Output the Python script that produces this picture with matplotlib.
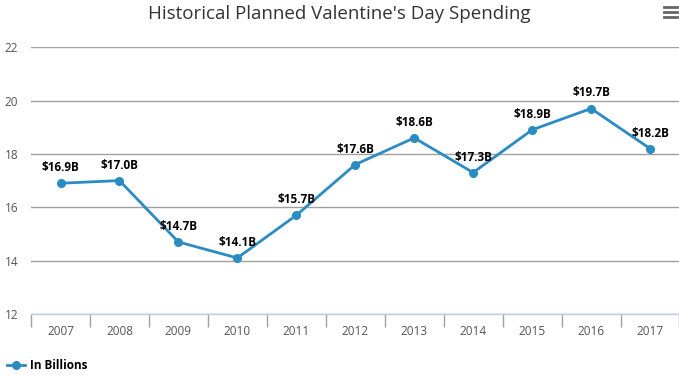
import matplotlib.pyplot as plt
from matplotlib.lines import Line2D

plt.rcParams['font.family'] = ['Open Sans', 'DejaVu Sans']

years = ['2007', '2008', '2009', '2010', '2011', '2012', '2013', '2014', '2015', '2016', '2017']
spending = [16.9, 17.0, 14.7, 14.1, 15.7, 17.6, 18.6, 17.3, 18.9, 19.7, 18.2]
labels = ['$16.9B', '$17.0B', '$14.7B', '$14.1B', '$15.7B', '$17.6B',
          '$18.6B', '$17.3B', '$18.9B', '$19.7B', '$18.2B']
yticks = [12, 14, 16, 18, 20, 22]

line_color = '#2b8cc4'

fig = plt.figure(figsize=(6.79, 3.77), dpi=100)
ax = fig.add_axes([0.0457, 0.167, 0.955, 0.708])

x = list(range(len(years)))
ax.plot(x, spending, color=line_color, linewidth=2, marker='o', markersize=5.5,
        label='In Billions', clip_on=False, zorder=3)
for xi, v, t in zip(x, spending, labels):
    ax.annotate(t, (xi, v), xytext=(0, 6.5), textcoords='offset points',
                ha='center', va='bottom', fontsize=8.5, fontweight='bold', color='black')

ax.set_xlim(-0.5, len(years) - 0.5)
ax.set_ylim(12, 22)
ax.set_yticks(yticks)
ax.set_yticklabels([str(v) for v in yticks])
ax.grid(axis='y', color='#a0a0a0', linewidth=1)
ax.set_axisbelow(True)

ax.set_xticks(x)
ax.set_xticklabels(years)
ax.set_xticks([i - 0.5 for i in range(len(years) + 1)], minor=True)
ax.tick_params(axis='x', which='major', length=0, pad=8, labelsize=8.5, labelcolor='#555555')
ax.tick_params(axis='x', which='minor', length=9, width=1, color='#a0a0a0', direction='out')
ax.tick_params(axis='y', length=0, pad=19, labelsize=8.5, labelcolor='#555555')
for lbl in ax.get_yticklabels():
    lbl.set_horizontalalignment('left')

for s in ['top', 'right', 'left']:
    ax.spines[s].set_visible(False)
ax.spines['bottom'].set_color('#c0d0e0')
ax.spines['bottom'].set_linewidth(1)

fig.text(0.5, 0.963, "Historical Planned Valentine's Day Spending", ha='center', va='center',
         fontsize=13.5, color='#333333')

# menu icon
for dy in [0.0, 0.013, 0.026]:
    fig.add_artist(Line2D([0.978, 0.997], [0.955 + dy, 0.955 + dy], color='#666666', linewidth=2))

ax.legend(loc='lower left', bbox_to_anchor=(-0.045, -0.235), frameon=False,
          prop={'weight': 'bold', 'size': 8.5}, handlelength=1.6, handletextpad=0.4,
          borderaxespad=0)

fig.savefig('out.png', dpi=100)
